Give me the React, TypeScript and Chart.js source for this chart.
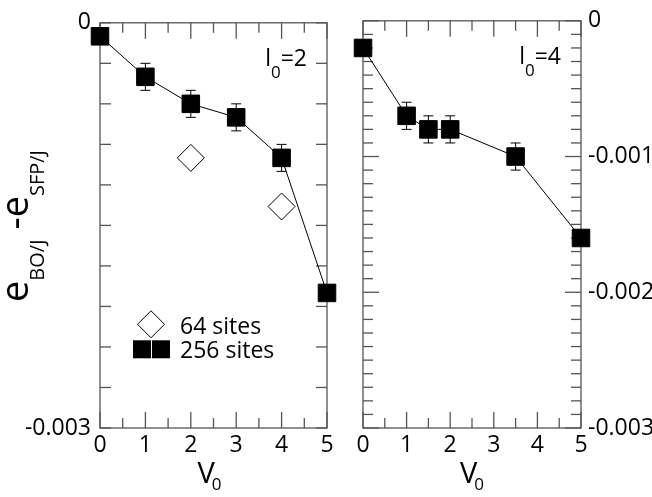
import React, { useEffect, useRef } from 'react';
import { Chart, registerables } from 'chart.js';
Chart.register(...registerables);

// ---- data ----
const v0Left256 = [0, 1, 2, 3, 4, 5];
const eLeft256 = [-0.0001, -0.0004, -0.0006, -0.0007, -0.001, -0.002];
const errLeft256 = [0, 0.0001, 0.0001, 0.0001, 0.0001, 0];
const v0Left64 = [2, 4];
const eLeft64 = [-0.001, -0.00136];
const v0Right256 = [0, 1, 1.5, 2, 3.5, 5];
const eRight256 = [-0.0002, -0.0007, -0.0008, -0.0008, -0.001, -0.0016];
const errRight256 = [0, 0.0001, 0.0001, 0.0001, 0.0001, 0];
const legendLabels = ['64 sites', '256 sites'];
const panelL0 = ['2', '4'];
const xRange = [0, 5];
const yRange = [-0.003, 0];

const FONT = "'Open Sans', 'DejaVu Sans', sans-serif";
const FRAME = '#555';

function fmtY(v: number) {
  if (Math.abs(v) < 1e-12) return '0';
  return String(+v.toFixed(4));
}

const decorPlugin = {
  id: 'decor',
  beforeDatasetsDraw(chart: any, _a: any, opts: any) {
    const { ctx, chartArea: a, scales } = chart;
    const xs = scales.x, ys = scales.y;
    ctx.save();
    ctx.strokeStyle = FRAME;
    ctx.lineWidth = 1.3;
    ctx.strokeRect(a.left, a.top, a.right - a.left, a.bottom - a.top);
    const seg = (x1: number, y1: number, x2: number, y2: number) => {
      ctx.beginPath(); ctx.moveTo(x1, y1); ctx.lineTo(x2, y2); ctx.stroke();
    };
    const isMul = (v: number, s: number) => Math.abs(v / s - Math.round(v / s)) < 1e-6;
    const nx = Math.round((xs.max - xs.min) / opts.xMinor);
    for (let i = 0; i <= nx; i++) {
      const v = xs.min + i * opts.xMinor;
      const px = xs.getPixelForValue(v);
      const len = isMul(v, opts.xMajor) ? opts.xMajorLen : opts.xMinorLen;
      seg(px, a.top, px, a.top + len);
      seg(px, a.bottom, px, a.bottom - len);
    }
    const ny = Math.round((ys.max - ys.min) / opts.yMinor);
    for (let i = 0; i <= ny; i++) {
      const v = ys.min + i * opts.yMinor;
      const py = ys.getPixelForValue(v);
      const len = isMul(v, opts.yMajor) ? opts.yMajorLen : opts.yMinorLen;
      seg(a.left, py, a.left + len, py);
      seg(a.right, py, a.right - len, py);
    }
    // error bars
    ctx.strokeStyle = '#000';
    ctx.lineWidth = 1;
    chart.data.datasets.forEach((ds: any) => {
      if (!ds.errors) return;
      ds.data.forEach((p: any, j: number) => {
        const e = ds.errors[j];
        if (!e) return;
        const px = xs.getPixelForValue(p.x);
        const y1 = ys.getPixelForValue(p.y + e);
        const y2 = ys.getPixelForValue(p.y - e);
        seg(px, y1, px, y2);
        seg(px - 5, y1, px + 5, y1);
        seg(px - 5, y2, px + 5, y2);
      });
    });
    ctx.restore();
  },
  afterDraw(chart: any, _a: any, opts: any) {
    const { ctx, chartArea: a } = chart;
    ctx.save();
    ctx.fillStyle = '#000';
    ctx.textBaseline = 'alphabetic';
    // panel label l0=N (right aligned)
    {
      const parts: [string, number, number][] = [['l', 23, 0], ['0', 17, 12], ['=' + opts.l0, 23, 0]];
      let w = 0;
      const widths = parts.map(([t, s]) => { ctx.font = `${s}px ${FONT}`; const m = ctx.measureText(t).width; w += m; return m; });
      let x = a.right - 20 - w;
      const base = a.top + 43;
      parts.forEach(([t, s, dy], i) => {
        ctx.font = `${s}px ${FONT}`;
        ctx.textAlign = 'left';
        ctx.fillText(t, x, base + dy);
        x += widths[i];
      });
    }
    // x title V0
    {
      ctx.font = `29px ${FONT}`;
      const wV = ctx.measureText('V').width;
      ctx.font = `17px ${FONT}`;
      const w0 = ctx.measureText('0').width;
      const total = wV - 3 + w0;
      const cx = (a.left + a.right) / 2 + opts.xTitleShift;
      const x = cx - total / 2;
      ctx.textAlign = 'left';
      ctx.font = `29px ${FONT}`;
      ctx.fillText('V', x, 483);
      ctx.font = `17px ${FONT}`;
      ctx.fillText('0', x + wV - 3, 490);
    }
    if (opts.legend) {
      const dx = a.left + 51, dy = a.top + 301.5, r = 13.5;
      ctx.beginPath();
      ctx.moveTo(dx - r, dy); ctx.lineTo(dx, dy - r); ctx.lineTo(dx + r, dy); ctx.lineTo(dx, dy + r); ctx.closePath();
      ctx.fillStyle = '#fff'; ctx.fill();
      ctx.strokeStyle = '#000'; ctx.lineWidth = 1; ctx.stroke();
      ctx.fillStyle = '#000';
      const sy = a.top + 326.5, h = 9;
      [a.left + 42, a.left + 61].forEach((sx) => ctx.fillRect(sx - h, sy - h, 2 * h, 2 * h));
      ctx.strokeStyle = '#fff';
      ctx.beginPath(); ctx.moveTo(a.left + 51.5, sy - h); ctx.lineTo(a.left + 51.5, sy + h); ctx.stroke();
      ctx.fillStyle = '#000';
      ctx.font = `23px ${FONT}`;
      ctx.textAlign = 'left';
      ctx.fillText(legendLabels[0], a.left + 80, a.top + 311);
      ctx.fillText(legendLabels[1], a.left + 80, a.top + 335);
    }
    if (opts.yTitle) {
      const parts: [string, number, number][] = [['e', 38, 0], ['BO/J', 20, 16], [' -e', 38, 0], ['SFP/J', 20, 16]];
      let w = 0;
      const widths = parts.map(([t, s]) => { ctx.font = `${s}px ${FONT}`; const m = ctx.measureText(t).width; w += m; return m; });
      ctx.translate(28, 226);
      ctx.rotate(-Math.PI / 2);
      let u = -w / 2;
      ctx.textAlign = 'left';
      parts.forEach(([t, s, dv], i) => {
        ctx.font = `${s}px ${FONT}`;
        ctx.fillText(t, u, dv);
        u += widths[i];
      });
    }
    ctx.restore();
  },
};

function makeConfig(side: 'left' | 'right') {
  const left = side === 'left';
  const tickFont = { family: FONT, size: 23 };
  const datasets: any[] = [];
  if (left) {
    datasets.push({
      label: '256 sites',
      data: v0Left256.map((x, i) => ({ x, y: eLeft256[i] })),
      errors: errLeft256,
      showLine: true, borderColor: '#000', borderWidth: 1,
      pointStyle: 'rect', pointRadius: 12.4, pointBackgroundColor: '#000', pointBorderColor: '#000', pointBorderWidth: 1,
      clip: false,
    });
    datasets.push({
      label: '64 sites',
      data: v0Left64.map((x, i) => ({ x, y: eLeft64[i] })),
      showLine: false,
      pointStyle: 'rectRot', pointRadius: 13.5, pointBackgroundColor: '#fff', pointBorderColor: '#000', pointBorderWidth: 1,
      clip: false,
    });
  } else {
    datasets.push({
      label: '256 sites',
      data: v0Right256.map((x, i) => ({ x, y: eRight256[i] })),
      errors: errRight256,
      showLine: true, borderColor: '#000', borderWidth: 1,
      pointStyle: 'rect', pointRadius: 12.4, pointBackgroundColor: '#000', pointBorderColor: '#000', pointBorderWidth: 1,
      clip: false,
    });
  }
  return {
    type: 'scatter',
    data: { datasets },
    plugins: [decorPlugin],
    options: {
      animation: false,
      responsive: false,
      devicePixelRatio: 1,
      layout: { autoPadding: false, padding: left ? { left: 0, right: 18, top: 15, bottom: 0 } : { left: 18, right: 0, top: 15, bottom: 0 } },
      scales: {
        x: {
          type: 'linear', position: 'bottom', min: xRange[0], max: xRange[1],
          ticks: { stepSize: 1, font: tickFont, color: '#000', padding: 4, maxRotation: 0 },
          grid: { display: false, drawTicks: false },
          border: { display: false },
          afterFit: (s: any) => { s.height = 69; },
        },
        y: {
          type: 'linear', position: left ? 'left' : 'right', min: yRange[0], max: yRange[1],
          ticks: { stepSize: left ? 0.003 : 0.001, font: tickFont, color: '#000', padding: left ? 9 : 7, callback: (v: any) => fmtY(+v) },
          grid: { display: false, drawTicks: false },
          border: { display: false },
          afterFit: (s: any) => { s.width = left ? 100 : 71; },
        },
      },
      plugins: {
        legend: { display: false },
        tooltip: { enabled: false },
        decor: left
          ? { xMajor: 1, xMinor: 0.5, xMajorLen: 16, xMinorLen: 10, yMajor: 0.0003, yMinor: 0.0003, yMajorLen: 11, yMinorLen: 11, l0: panelL0[0], legend: true, yTitle: true, xTitleShift: -4 }
          : { xMajor: 1, xMinor: 0.5, xMajorLen: 16, xMinorLen: 10, yMajor: 0.001, yMinor: 0.0001, yMajorLen: 16, yMinorLen: 10, l0: panelL0[1], legend: false, yTitle: false, xTitleShift: 0 },
      },
    },
  } as any;
}

export default function App() {
  const leftRef = useRef<HTMLCanvasElement>(null);
  const rightRef = useRef<HTMLCanvasElement>(null);
  useEffect(() => {
    const c1 = new Chart(leftRef.current!, makeConfig('left'));
    const c2 = new Chart(rightRef.current!, makeConfig('right'));
    return () => { c1.destroy(); c2.destroy(); };
  }, []);
  return (
    <div style={{ position: 'absolute', left: 0, top: 0, width: 652, height: 497, background: '#fff' }}>
      <canvas ref={leftRef} width={345} height={497} style={{ position: 'absolute', left: 0, top: 0, width: 345, height: 497 }} />
      <canvas ref={rightRef} width={307} height={497} style={{ position: 'absolute', left: 345, top: 0, width: 307, height: 497 }} />
    </div>
  );
}
